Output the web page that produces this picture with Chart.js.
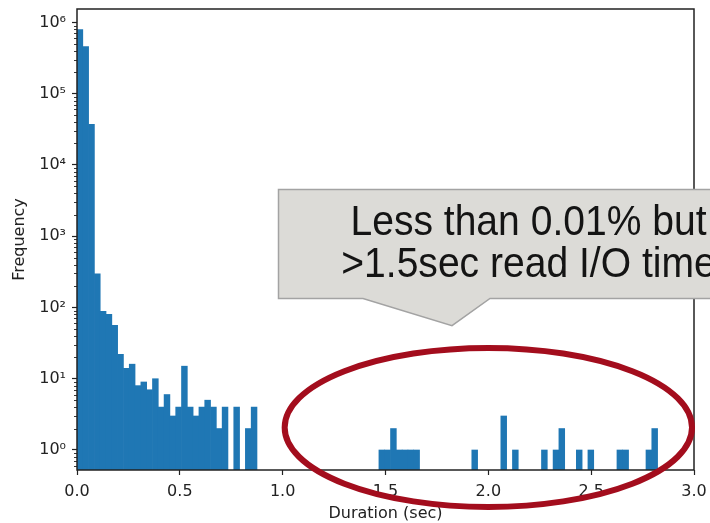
<!DOCTYPE html>
<html>
<head>
<meta charset="utf-8">
<script src="https://cdn.jsdelivr.net/npm/chart.js@4.4.1/dist/chart.umd.min.js"></script>
<style>
  html, body { margin: 0; padding: 0; background: #fff; }
  #wrap { width: 710px; height: 523px; }
</style>
</head>
<body>
<div id="wrap"><canvas id="chart"></canvas></div>
<script>
// histogram: 100 bins of equal width starting at 0 s
const BIN_WIDTH = 0.02823;
const counts = [
  790000, 457000, 37000, 296, 88, 80, 56, 22, 14, 16,
  8, 9, 7, 10, 4, 6, 3, 4, 15, 4,
  3, 4, 5, 4, 2, 4, 0, 4, 0, 2,
  4, 0, 0, 0, 0, 0, 0, 0, 0, 0,
  0, 0, 0, 0, 0, 0, 0, 0, 0, 0,
  0, 0, 1, 1, 2, 1, 1, 1, 1, 0,
  0, 0, 0, 0, 0, 0, 0, 0, 1, 0,
  0, 0, 0, 3, 0, 1, 0, 0, 0, 0,
  1, 0, 1, 2, 0, 0, 1, 0, 1, 0,
  0, 0, 0, 1, 1, 0, 0, 0, 1, 2,
];
const xTicks   = [0, 0.5, 1.0, 1.5, 2.0, 2.5, 3.0];
const yDecades = [1, 10, 100, 1000, 10000, 100000, 1000000];
const calloutLines = ['Less than 0.01% but', '>1.5sec read I/O time'];

const SUP = '⁰¹²³⁴⁵⁶⁷⁸⁹';
const tickFont = { family: 'DejaVu Sans', size: 16 };
const ink = '#222';
const isMajor = v => yDecades.includes(v);

const points = counts.map((c, i) => ({ x: (i + 0.5) * BIN_WIDTH, y: c > 0 ? c : null }));

// overlay: frame, minor ticks, red ellipse, grey callout
const overlay = {
  id: 'overlay',
  afterDraw(chart) {
    const { ctx, chartArea: a, scales: { x, y } } = chart;
    ctx.save();
    ctx.strokeStyle = ink;
    ctx.lineWidth = 1.5;
    ctx.strokeRect(a.left, a.top, a.right - a.left, a.bottom - a.top);

    // short minor ticks on the log axis
    ctx.lineWidth = 0.9;
    ctx.beginPath();
    y.ticks.forEach(t => {
      if (isMajor(t.value)) return;
      const py = Math.round(y.getPixelForValue(t.value)) + 0.5;
      ctx.moveTo(a.left - 3, py);
      ctx.lineTo(a.left, py);
    });
    ctx.stroke();

    // ellipse around the slow reads (1.0 .. 3.0 s)
    const cx = x.getPixelForValue(2.0);
    const rx = (x.getPixelForValue(3.0) - x.getPixelForValue(1.0)) / 2 - 2;
    const cy = y.getPixelForValue(2.07);
    ctx.beginPath();
    ctx.ellipse(cx, cy, rx, 79.5, 0, 0, Math.PI * 2);
    ctx.strokeStyle = '#a30d1d';
    ctx.lineWidth = 6;
    ctx.stroke();

    // callout box with pointer
    const top = 189.5, bot = 298.5, left = 278.5;
    ctx.beginPath();
    ctx.moveTo(left, top);
    ctx.lineTo(chart.width + 5, top);
    ctx.lineTo(chart.width + 5, bot);
    ctx.lineTo(490, bot);
    ctx.lineTo(452, 325.7);
    ctx.lineTo(363, bot);
    ctx.lineTo(left, bot);
    ctx.closePath();
    ctx.fillStyle = '#dcdbd7';
    ctx.fill();
    ctx.strokeStyle = '#a3a3a3';
    ctx.lineWidth = 1.5;
    ctx.stroke();

    ctx.fillStyle = '#141414';
    ctx.font = '42px "Liberation Sans", sans-serif';
    ctx.textAlign = 'center';
    ctx.textBaseline = 'alphabetic';
    const tx = 528.5;
    [235, 277].forEach((base, i) => {
      ctx.save();
      ctx.translate(tx, base);
      ctx.scale(0.93, 1);
      ctx.fillText(calloutLines[i], 0, 0);
      ctx.restore();
    });
    ctx.restore();
  },
};

new Chart(document.getElementById('chart'), {
  type: 'bar',
  data: {
    datasets: [{
      data: points,
      backgroundColor: '#1f77b4',
      borderWidth: 0,
      barPercentage: 1.0,
      categoryPercentage: 1.0,
    }],
  },
  plugins: [overlay],
  options: {
    responsive: true,
    maintainAspectRatio: false,
    animation: false,
    layout: { padding: { top: 9, right: 16, left: 0, bottom: 0 } },
    plugins: { legend: { display: false }, tooltip: { enabled: false } },
    scales: {
      x: {
        type: 'linear',
        min: 0,
        max: 3.0,
        offset: false,
        afterBuildTicks: s => { s.ticks = xTicks.map(v => ({ value: v })); },
        afterFit: s => { s.height = 53; s.paddingLeft = 0; s.paddingRight = 0; },
        border: { display: false },
        grid: { offset: false, drawOnChartArea: false, drawTicks: true, tickLength: 5, tickColor: ink, tickWidth: 1.2 },
        ticks: { font: tickFont, color: ink, padding: 7, maxRotation: 0, autoSkip: false,
                 callback: v => Number(v).toFixed(1) },
        title: { display: true, text: 'Duration (sec)', font: tickFont, color: ink,
                 padding: { top: 0, bottom: 0 } },
      },
      y: {
        type: 'logarithmic',
        min: 0.524,
        max: 1.54e6,
        afterBuildTicks: s => {
          const t = [];
          yDecades.forEach(d => {
            for (let m = 1; m <= 9; m++) {
              const v = d * m;
              if (v <= s.max) t.push({ value: v });
            }
          });
          for (let m = 6; m <= 9; m++) t.unshift({ value: m / 10 });
          s.ticks = t.sort((p, q) => p.value - q.value);
        },
        afterFit: s => { s.width = 77; s.paddingTop = 0; s.paddingBottom = 0; },
        border: { display: false },
        grid: {
          drawOnChartArea: false, drawTicks: true, tickLength: 5, tickWidth: 1.2,
          tickColor: c => (c.tick && isMajor(c.tick.value) ? ink : 'rgba(0,0,0,0)'),
        },
        ticks: {
          font: tickFont, color: ink, padding: 6, autoSkip: false,
          callback: v => {
            if (!isMajor(v)) return '';
            const e = Math.round(Math.log10(v));
            return '10' + SUP[e];
          },
        },
        title: { display: true, text: 'Frequency', font: tickFont, color: ink,
                 padding: { top: 10, bottom: 0 } },
      },
    },
  },
});
</script>
</body>
</html>
